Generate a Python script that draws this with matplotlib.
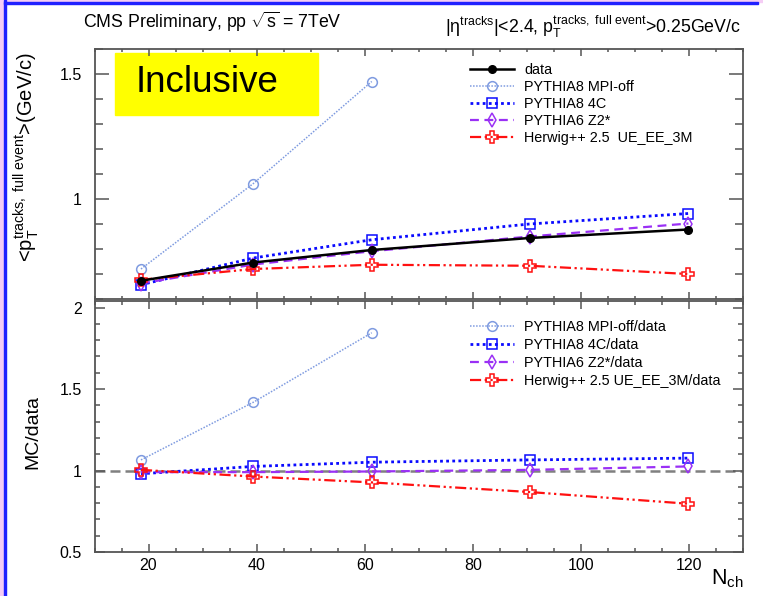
import numpy as np
import matplotlib
matplotlib.use("Agg")
import matplotlib.pyplot as plt
from matplotlib.ticker import MultipleLocator, FuncFormatter
from matplotlib.patches import Rectangle

plt.rcParams['font.family'] = ['Liberation Sans', 'DejaVu Sans']
plt.rcParams['mathtext.fontset'] = 'custom'
plt.rcParams['mathtext.rm'] = 'Liberation Sans'
plt.rcParams['mathtext.it'] = 'Liberation Sans:italic'
plt.rcParams['mathtext.bf'] = 'Liberation Sans:bold'

# # Data: mean pT vs charged multiplicity
nch = [18.6, 39.4, 61.3, 90.5, 119.9]
nch_mpioff = [18.6, 39.4, 61.3]

pt_data = [0.673, 0.746, 0.796, 0.844, 0.878]
pt_mpioff = [0.720, 1.062, 1.470]
pt_4c = [0.657, 0.764, 0.837, 0.900, 0.942]
pt_z2 = [0.662, 0.738, 0.791, 0.850, 0.902]
pt_herwig = [0.677, 0.720, 0.737, 0.733, 0.700]

# MC / data ratios
r_mpioff = [1.065, 1.419, 1.845]
r_4c = [0.980, 1.025, 1.051, 1.065, 1.076]
r_z2 = [0.990, 0.990, 0.994, 1.004, 1.025]
r_herwig = [1.004, 0.963, 0.927, 0.868, 0.796]

W, H = 763, 596
fig = plt.figure(figsize=(W / 100, H / 100), dpi=100)

def fx(px):
    return px / W

def fy(py):
    return 1 - py / H

# slide border bits (pink margin + blue line)
fig.patches.append(Rectangle((0, 0), fx(4), 1, transform=fig.transFigure, color='#f5cdf5', zorder=0))
fig.patches.append(Rectangle((fx(4), 0), fx(2.5), 1, transform=fig.transFigure, color='#2020ff', zorder=1))
fig.patches.append(Rectangle((0, fy(1.5)), 1, fy(0) - fy(1.5), transform=fig.transFigure, color='#f5cdf5', zorder=0))
fig.patches.append(Rectangle((fx(4), fy(4)), fx(754), fy(1.5) - fy(4), transform=fig.transFigure, color='#2020ff', zorder=1))

left, right = fx(94.5), fx(743)
ax1 = fig.add_axes([left, fy(299), right - left, fy(49) - fy(299)])
ax2 = fig.add_axes([left, fy(552), right - left, fy(301) - fy(552)])

c_mpi = '#7f9be0'
c_4c = '#0a0aff'
c_z2 = '#9a30f5'
c_hw = '#ff1010'
dashdotdot = (0, (5, 1.6, 1, 1.6, 1, 1.6))

# # Top panel
ax1.plot(nch, pt_data, color='black', lw=1.8, marker='o', ms=5.5, label='data', zorder=5)
ax1.plot(nch_mpioff, pt_mpioff, color=c_mpi, lw=1.1, ls=(0, (1, 1)), marker='o', ms=7,
         mfc='none', mew=1.1, label='PYTHIA8 MPI-off')
ax1.plot(nch, pt_4c, color=c_4c, lw=2.0, ls=(0, (1, 1.2)), marker='s', ms=7,
         mfc='none', mew=1.1, label='PYTHIA8 4C')
ax1.plot(nch, pt_z2, color=c_z2, lw=1.6, ls=(0, (4, 2.5)), marker='d', ms=7,
         mfc='none', mew=1.1, label='PYTHIA6 Z2*')
ax1.plot(nch, pt_herwig, color=c_hw, lw=1.6, ls=dashdotdot, marker='P', ms=9,
         mfc='none', mew=1.1, label='Herwig++ 2.5  UE_EE_3M')

ax1.set_xlim(10, 130)
ax1.set_ylim(0.6, 1.6)

ax1.add_patch(Rectangle((0.0316, 0.735), 0.313, 0.25, transform=ax1.transAxes,
                        color='#ffff00', zorder=1))
ax1.text(0.064, 0.866, 'Inclusive', transform=ax1.transAxes, fontsize=26.5,
         va='center', ha='left', zorder=2)

leg1 = ax1.legend(loc='upper left', bbox_to_anchor=(fx(463), fy(55.5)),
                  bbox_transform=fig.transFigure, frameon=False, fontsize=10.4,
                  handlelength=3.05, handletextpad=0.7, labelspacing=0.22, borderpad=0)

ax1.set_ylabel(r'<$\mathrm{p}_{\mathrm{T}}^{\mathrm{tracks,\ full\ event}}$>(GeV/c)', fontsize=14.5)
ax1.yaxis.set_label_coords((41 - 94.5) / 648.5, (299 - 157) / 250)

# # Bottom panel: ratios
ax2.axhline(1.0, color='#808080', lw=1.8, dashes=(4, 2), zorder=1)
ax2.plot(nch_mpioff, r_mpioff, color=c_mpi, lw=1.1, ls=(0, (1, 1)), marker='o', ms=7,
         mfc='none', mew=1.1, label='PYTHIA8 MPI-off/data')
ax2.plot(nch, r_4c, color=c_4c, lw=2.0, ls=(0, (1, 1.2)), marker='s', ms=7,
         mfc='none', mew=1.1, label='PYTHIA8 4C/data')
ax2.plot(nch, r_z2, color=c_z2, lw=1.6, ls=(0, (4, 2.5)), marker='d', ms=7,
         mfc='none', mew=1.1, label='PYTHIA6 Z2*/data')
ax2.plot(nch, r_herwig, color=c_hw, lw=1.6, ls=dashdotdot, marker='P', ms=9,
         mfc='none', mew=1.1, label='Herwig++ 2.5 UE_EE_3M/data')

ax2.set_xlim(10, 130)
ax2.set_ylim(0.5, 2.04)

leg2 = ax2.legend(loc='upper left', bbox_to_anchor=(fx(463), fy(313)),
                  bbox_transform=fig.transFigure, frameon=False, fontsize=10.4,
                  handlelength=3.05, handletextpad=0.7, labelspacing=0.27, borderpad=0)

ax2.set_ylabel('MC/data', fontsize=14)
ax2.yaxis.set_label_coords((41 - 94.5) / 648.5, (552 - 432) / 251)

# x axis title sits under the right end of the lower panel
fig.text(fx(744), fy(584), r'$\mathrm{N}_{\mathrm{ch}}$', fontsize=15.5, ha='right', va='baseline')

# # Axis styling
fmt = FuncFormatter(lambda v, p: '%g' % v)
for ax in (ax1, ax2):
    ax.xaxis.set_major_locator(MultipleLocator(20))
    ax.xaxis.set_minor_locator(MultipleLocator(5))
    ax.yaxis.set_major_locator(MultipleLocator(0.5))
    ax.yaxis.set_minor_locator(MultipleLocator(0.1))
    ax.yaxis.set_major_formatter(fmt)
    ax.xaxis.set_major_formatter(fmt)
    ax.tick_params(which='both', direction='in', top=True, right=True,
                   color='#555555', width=1.1, labelsize=11.5)
    for s in ax.spines.values():
        s.set_color('#555555')
        s.set_linewidth(1.3)

ax1.tick_params(axis='y', which='major', length=10, pad=9)
ax1.tick_params(axis='y', which='minor', length=5.5)
ax1.tick_params(axis='x', which='major', length=5)
ax1.tick_params(axis='x', which='minor', length=2.5)
ax1.tick_params(axis='x', labelbottom=False)
ax2.tick_params(axis='y', which='major', length=7, pad=9)
ax2.tick_params(axis='y', which='minor', length=3.5)
ax2.tick_params(axis='x', which='major', length=6, pad=4)
ax2.tick_params(axis='x', which='minor', length=3)

# # Header texts
fig.text(fx(83), fy(28), r'CMS Preliminary, pp $\sqrt{\mathrm{s}}$ = 7TeV', fontsize=12.8,
         ha='left', va='baseline')
fig.text(fx(741), fy(33),
         r'$|\mathrm{η}^{\mathrm{tracks}}|$<2.4, $\mathrm{p}_{\mathrm{T}}^{\mathrm{tracks,\ full\ event}}$>0.25GeV/c',
         fontsize=12.8, ha='right', va='baseline')

fig.savefig('out.png', dpi=100)
